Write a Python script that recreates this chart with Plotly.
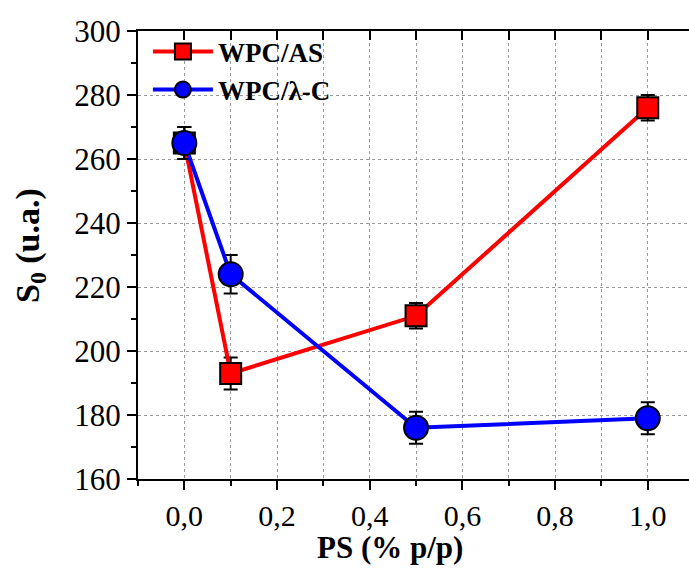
import plotly.graph_objects as go

ps = [0.0, 0.1, 0.5, 1.0]
as_vals = [265, 193, 211, 276]
as_err = [5, 5, 4, 4]
lc_vals = [265, 224, 176, 179]
lc_err = [5, 6, 5, 5]

FONT = "Liberation Serif"
XR = [-0.1, 1.089]

fig = go.Figure()
fig.add_trace(go.Scatter(
    x=ps, y=as_vals, name="<b>WPC/AS</b>", mode="lines+markers",
    line=dict(color="#ff0000", width=4),
    marker=dict(symbol="square", size=21, color="#ff0000",
                line=dict(color="black", width=2)),
    error_y=dict(type="data", array=as_err, color="black", thickness=2, width=7),
))
fig.add_trace(go.Scatter(
    x=ps, y=lc_vals, name="<b>WPC/λ-C</b>", mode="lines+markers",
    line=dict(color="#0000ff", width=4),
    marker=dict(symbol="circle", size=24, color="#0000ff",
                line=dict(color="black", width=2)),
    error_y=dict(type="data", array=lc_err, color="black", thickness=2, width=7),
))
# invisible helper trace for the top mirror axis
fig.add_trace(go.Scatter(x=ps, y=as_vals, xaxis="x2", mode="markers",
                         marker=dict(opacity=0), showlegend=False, hoverinfo="skip"))

grid = dict(showgrid=True, gridcolor="#9a9a9a", griddash="dot", gridwidth=1)

fig.update_layout(
    width=689, height=568,
    margin=dict(l=138, r=0, t=31, b=89),
    paper_bgcolor="white", plot_bgcolor="white",
    separators=",.",
    font=dict(family=FONT, color="black", size=30),
    showlegend=True,
    legend=dict(x=0.018, y=1.008, xanchor="left", yanchor="top",
                bgcolor="rgba(0,0,0,0)", itemwidth=60,
                font=dict(family=FONT, size=27, color="black"),
                tracegroupgap=4),
    xaxis=dict(range=XR, dtick=0.2, tick0=0, tickformat=".1f",
               ticks="outside", ticklen=9, tickwidth=2, tickcolor="black",
               showline=True, linewidth=2, linecolor="black", zeroline=False,
               tickfont=dict(family=FONT, size=30),
               minor=dict(dtick=0.1, tick0=0, ticks="outside", ticklen=5, tickwidth=2,
                          tickcolor="black", showgrid=True, gridcolor="#9a9a9a",
                          griddash="dot", gridwidth=1),
               **grid),
    xaxis2=dict(range=XR, overlaying="x", side="top", dtick=0.1, tick0=0,
                ticks="inside", ticklen=9, tickwidth=2, tickcolor="black",
                showticklabels=False, showline=True, linewidth=2, linecolor="black",
                showgrid=False, zeroline=False),
    yaxis=dict(range=[160, 300], dtick=20, tick0=160,
               ticks="outside", ticklen=9, tickwidth=2, tickcolor="black",
               showline=True, linewidth=2, linecolor="black", zeroline=False,
               tickfont=dict(family=FONT, size=31),
               minor=dict(dtick=10, ticks="outside", ticklen=5, tickwidth=2,
                          tickcolor="black", showgrid=False),
               **grid),
    annotations=[
        dict(text="<b>PS (% p/p)</b>", xref="paper", yref="paper",
             x=0.457, y=-0.194, xanchor="center", yanchor="bottom", borderpad=0,
             showarrow=False, font=dict(family=FONT, size=31, color="black")),
        dict(text="<b>S<sub>0</sub> (u.a.)</b>", xref="paper", yref="paper",
             x=-0.196, y=0.52, xanchor="center", yanchor="middle", textangle=-90,
             showarrow=False, font=dict(family=FONT, size=34, color="black")),
    ],
)

fig.write_html("out.html")
